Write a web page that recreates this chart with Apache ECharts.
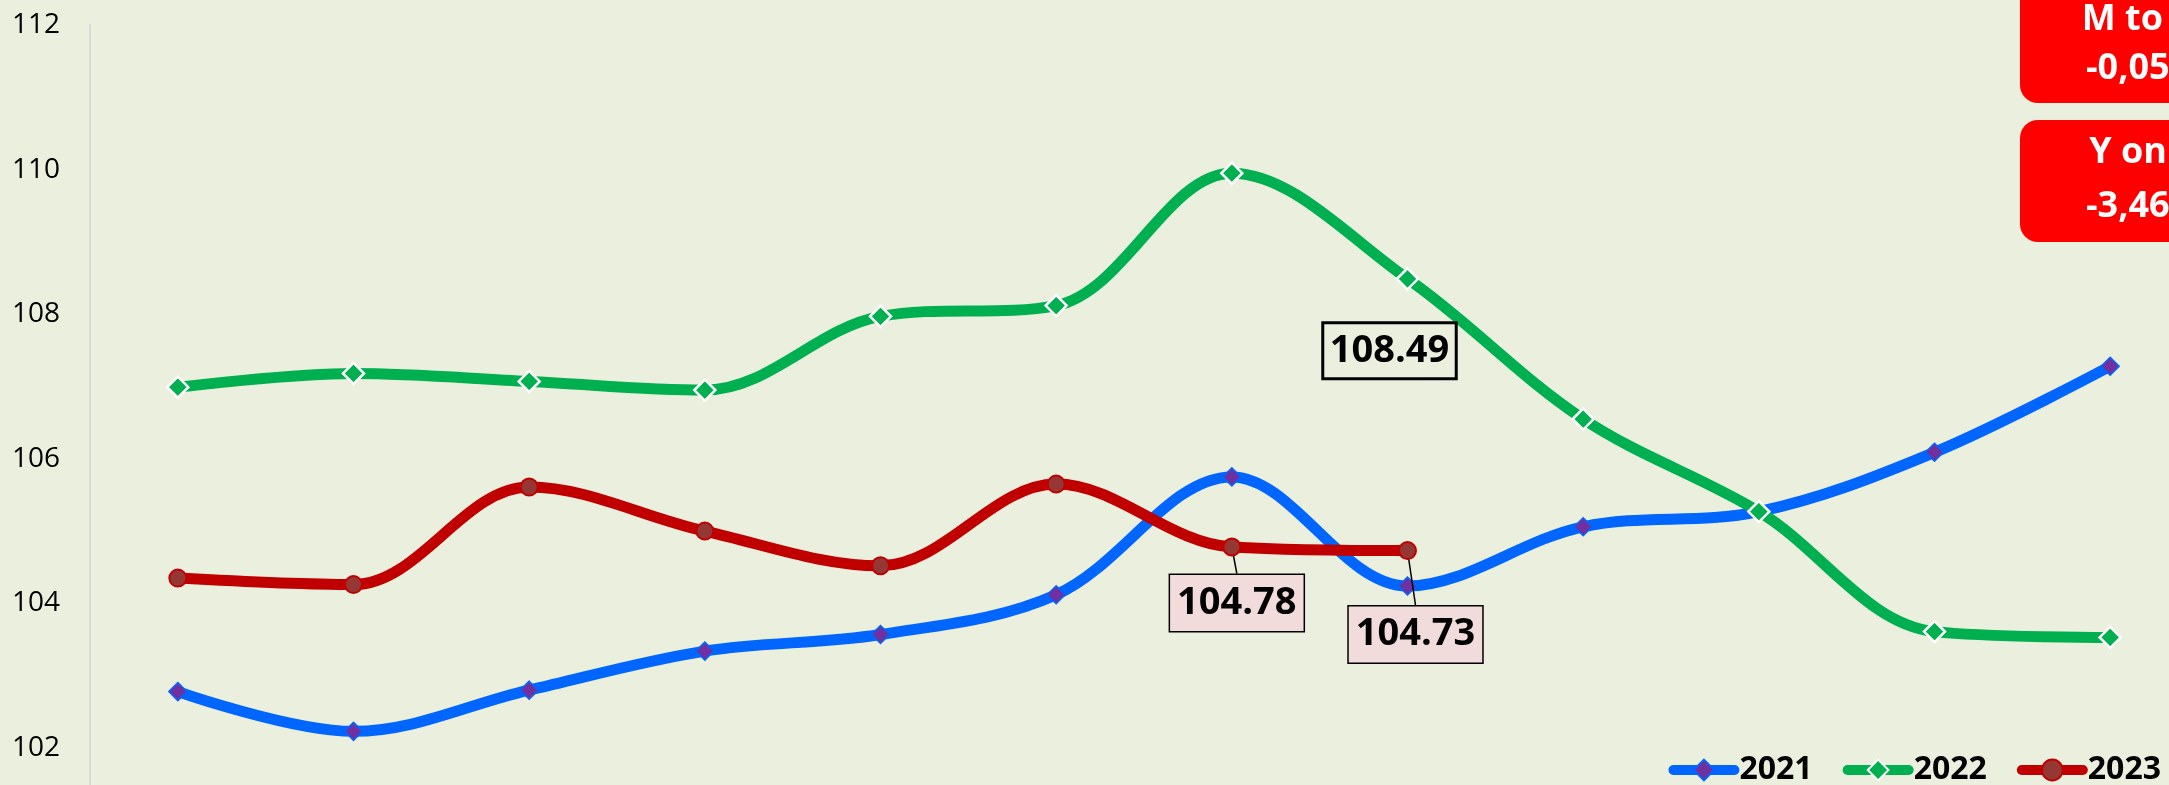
<!DOCTYPE html>
<html>
<head>
<meta charset="utf-8">
<script src="https://cdn.jsdelivr.net/npm/echarts/dist/echarts.min.js"></script>
<style>
    html, body { margin: 0; padding: 0; background: #ebf0de; }
    #index_chart { width: 2169px; height: 785px; }
</style>
</head>
<body>
<div id="index_chart"></div>
<script>
// months on the x axis (labels are cropped off in the original)
const months = ['Jan', 'Feb', 'Mar', 'Apr', 'May', 'Jun', 'Jul', 'Aug', 'Sep', 'Oct', 'Nov', 'Dec'];
const seriesNames = ['2021', '2022', '2023'];
const values2021 = [102.78, 102.23, 102.80, 103.34, 103.57, 104.12, 105.75, 104.24, 105.06, 105.27, 106.09, 107.28];
const values2022 = [106.99, 107.18, 107.07, 106.95, 107.97, 108.12, 109.95, 108.49, 106.55, 105.27, 103.61, 103.53];
const values2023 = [104.35, 104.26, 105.61, 105.00, 104.52, 105.65, 104.78, 104.73];
const yMin = 100;
const yMax = 112;
const yStep = 2;
// red boxes on the right
const boxLines = [['M to M', '-0,05%'], ['Y on Y', '-3,46%']];

let myChart = echarts.init(document.getElementById('index_chart'));

// which points carry a value label, and where the box sits relative to the point
let labelled = {
    '2022': {7: {dx: -18, dy: 72, bg: 'transparent', line: false}},
    '2023': {6: {dx: 5, dy: 56, bg: '#f2dcdb', line: true}, 7: {dx: 8, dy: 84, bg: '#f2dcdb', line: true}}
};

function buildData(name, values) {
    let marks = labelled[name] || {};
    return values.map(function (v, i) {
        if (!marks[i]) return v;
        return {
            value: v,
            label: {
                show: true,
                position: 'inside',
                formatter: function (p) { return p.value.toFixed(2); },
                color: '#000',
                fontFamily: 'Open Sans',
                fontWeight: 'bold',
                fontSize: 38,
                lineHeight: 42,
                padding: [8, 7, 6, 7],
                backgroundColor: marks[i].bg,
                borderColor: '#000',
                borderWidth: 1.5
            },
            labelLine: {
                show: marks[i].line,
                lineStyle: { color: '#000', width: 1.5 }
            }
        };
    });
}

function layoutFor(name) {
    let marks = labelled[name] || {};
    return function (params) {
        let m = marks[params.dataIndex];
        return m ? { dx: m.dx, dy: m.dy } : {};
    };
}

let styles = {
    '2021': { line: '#0066ff', symbol: 'diamond', size: 18, fill: '#7030a0', border: '#0066ff', borderWidth: 1.5 },
    '2022': { line: '#00b050', symbol: 'diamond', size: 21, fill: '#00b050', border: '#ffffff', borderWidth: 2.5 },
    '2023': { line: '#c00000', symbol: 'circle', size: 17, fill: '#953735', border: '#c00000', borderWidth: 2 }
};

let allValues = [values2021, values2022, values2023];
let seriesData = [];
for (let i = 0; i < seriesNames.length; i++) {
    let name = seriesNames[i];
    let s = styles[name];
    seriesData.push({
        name: name,
        type: 'line',
        smooth: 0.35,
        symbol: s.symbol,
        symbolSize: s.size,
        showAllSymbol: true,
        lineStyle: { color: s.line, width: 11 },
        itemStyle: { color: s.fill, borderColor: s.border, borderWidth: s.borderWidth },
        label: { show: false },
        labelLine: { show: false },
        labelLayout: layoutFor(name),
        emphasis: { disabled: true },
        z: 2 + i,
        data: buildData(name, allValues[i])
    });
}

let graphics = [];
let boxTops = [-40, 120];
let boxHeights = [143, 122];
let lineCentres = [[20, 69], [153, 207]];
for (let b = 0; b < boxLines.length; b++) {
    graphics.push({
        type: 'rect',
        left: 2020,
        top: boxTops[b],
        z: 100,
        shape: { width: 260, height: boxHeights[b], r: 18 },
        style: { fill: '#ff0000' }
    });
    for (let l = 0; l < 2; l++) {
        graphics.push({
            type: 'text',
            x: 2144,
            y: lineCentres[b][l],
            z: 101,
            style: {
                text: boxLines[b][l],
                fill: '#ffffff',
                font: 'bold 36px "Open Sans"',
                align: 'center',
                verticalAlign: 'middle'
            }
        });
    }
}

let option = {
    backgroundColor: '#ebf0de',
    animation: false,
    grid: {
        left: 90,
        top: 25,
        width: 2108,
        height: 867.6,
        containLabel: false,
        outerBoundsMode: 'none'
    },
    legend: {
        right: 3,
        top: 749,
        itemWidth: 61,
        itemHeight: 26,
        itemGap: 30,
        selectedMode: false,
        lineStyle: { width: 10, cap: 'round' },
        textStyle: {
            color: '#000',
            fontFamily: 'Open Sans',
            fontWeight: 'bold',
            fontSize: 32
        },
        data: seriesNames
    },
    xAxis: {
        type: 'category',
        boundaryGap: true,
        axisLine: { show: false },
        axisTick: { show: false },
        axisLabel: { show: false },
        splitLine: { show: false },
        data: months
    },
    yAxis: {
        type: 'value',
        min: yMin,
        max: yMax,
        interval: yStep,
        axisLine: {
            show: true,
            lineStyle: { color: '#d9d9d9', width: 2 }
        },
        axisTick: { show: false },
        splitLine: { show: false },
        axisLabel: {
            color: '#000',
            fontFamily: 'Open Sans',
            fontSize: 28,
            margin: 30
        }
    },
    graphic: graphics,
    series: seriesData
};
myChart.setOption(option);

window.addEventListener('resize', function () {
    myChart.resize();
});
</script>
</body>
</html>
